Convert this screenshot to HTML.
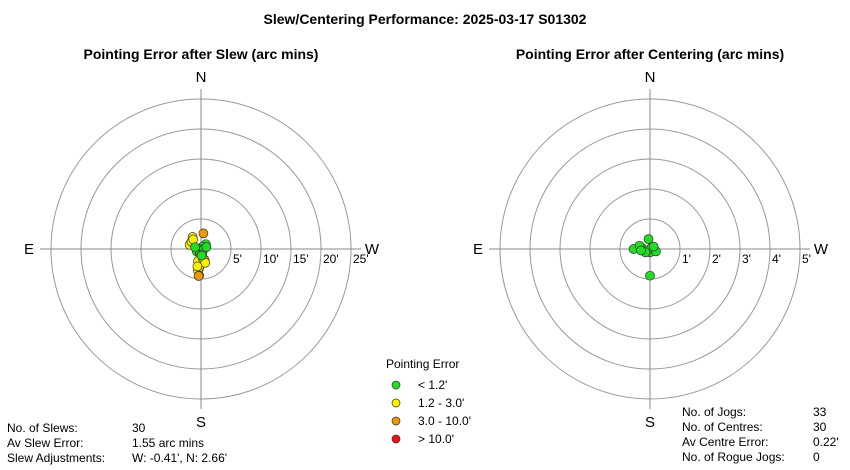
<!DOCTYPE html>
<html><head><meta charset="utf-8"><style>
body{margin:0;background:#fff;}
svg{display:block;font-family:"Liberation Sans",Arial,sans-serif;}
</style></head><body>
<svg id="c" width="850" height="470" viewBox="0 0 850 470">
<text x="425" y="24" text-anchor="middle" font-size="14" font-weight="bold">Slew/Centering Performance: 2025-03-17 S01302</text>
<text x="201" y="59" text-anchor="middle" font-size="14" font-weight="bold">Pointing Error after Slew (arc mins)</text>
<text x="650" y="59" text-anchor="middle" font-size="14" font-weight="bold">Pointing Error after Centering (arc mins)</text>
<g id="left"></g>
<g id="right"></g>
<g font-size="12">
<text x="386" y="368">Pointing Error</text>
<circle cx="396" cy="385" r="4" fill="#22dd22" stroke="#333" stroke-width="0.7"/><text x="418" y="389">&lt; 1.2'</text>
<circle cx="396" cy="403" r="4" fill="#ffee00" stroke="#333" stroke-width="0.7"/><text x="418" y="407">1.2 - 3.0'</text>
<circle cx="396" cy="421" r="4" fill="#ee9900" stroke="#333" stroke-width="0.7"/><text x="418" y="425">3.0 - 10.0'</text>
<circle cx="396" cy="439" r="4" fill="#ee1111" stroke="#333" stroke-width="0.7"/><text x="418" y="443">&gt; 10.0'</text>
</g>
<g font-size="12">
<text x="7" y="432">No. of Slews:</text><text x="132" y="432">30</text>
<text x="7" y="447">Av Slew Error:</text><text x="132" y="447">1.55 arc mins</text>
<text x="7" y="462">Slew Adjustments:</text><text x="132" y="462">W: -0.41', N: 2.66'</text>
</g>
<g font-size="12">
<text x="682" y="416">No. of Jogs:</text><text x="813" y="416">33</text>
<text x="682" y="431">No. of Centres:</text><text x="813" y="431">30</text>
<text x="682" y="446">Av Centre Error:</text><text x="813" y="446">0.22'</text>
<text x="682" y="461">No. of Rogue Jogs:</text><text x="813" y="461">0</text>
</g>
</svg>
<script>
// Slew errors (arc mins): W positive x, N positive y
const slewX = [0.4,-1.4,-1.7,-1.9,-1.6,-1.3,0.8,0.3,-0.7,0.1,-0.4,-0.2,0.5,-0.1,0.6,-0.2,-0.3,-0.5,-0.3,-0.4,-1.0,0.9,0.2,-0.5,0.3,0.7,-0.6,0.1];
const slewY = [2.6,2.0,1.0,0.7,1.2,1.6,0.8,0.4,-0.4,-0.4,0.0,-0.7,0.0,-1.3,-1.8,-2.4,-3.2,-3.6,-4.4,-4.5,0.3,0.3,-0.9,-2.0,-1.5,-2.3,-2.9,-1.1];
const slewCls = [2,1,1,1,1,1,0,0,0,0,0,0,0,1,1,1,1,1,2,2,0,0,0,1,1,1,1,0];
const slewTicks = ["5'","10'","15'","20'","25'"];
// Centering errors (arc mins)
const cenX = [-0.55,-0.05,-0.25,-0.35,0.1,0.15,0,-0.1,0.05,-0.15,0.2,0,-0.3,0.12];
const cenY = [0,0.33,0.02,0.11,0,-0.03,-0.11,-0.06,0.05,-0.11,-0.08,-0.89,-0.05,0.08];
const cenCls = [0,0,0,0,0,0,0,0,0,0,0,0,0,0];
const cenTicks = ["1'","2'","3'","4'","5'"];
const colors = ["#22dd22","#ffee00","#ee9900","#ee1111"];
const NS="http://www.w3.org/2000/svg";
function mk(p,t,a){const e=document.createElementNS(NS,t);for(const k in a)e.setAttribute(k,a[k]);p.appendChild(e);return e;}
function polar(gid,cx,cy,R,maxV,ticks,xs,ys,cls,prefix){
  const g=document.getElementById(gid);
  const sx=v=>cx+v/maxV*R, sy=v=>cy-v/maxV*R;
  ticks.forEach((t,i)=>{
    const r=R*(i+1)/ticks.length;
    const c=mk(g,'circle',{cx:cx,cy:cy,r:r,fill:'none',stroke:'#999','stroke-width':1});
    
    
    const tx=mk(g,'text',{x:cx+r+2,y:cy+14,'font-size':12});
    tx.textContent=t;
    
    
  });
  const v=mk(g,'line',{x1:cx,y1:cy-R-10,x2:cx,y2:cy+R+10,stroke:'#888'});
  
  
  const h=mk(g,'line',{x1:cx-R-11,y1:cy,x2:cx+R+10,y2:cy,stroke:'#888'});
  
  
  [['N',cx,cy-R-17,'middle'],['S',cx,cy+R+28,'middle'],['E',cx-R-22,cy+5,'middle'],['W',cx+R+21,cy+5,'middle']].forEach(d=>{
    const t=mk(g,'text',{x:d[1],y:d[2],'text-anchor':d[3],'font-size':15});
    t.textContent=d[0];
    
    
  });
  xs.forEach((x,i)=>{
    const p=mk(g,'circle',{cx:sx(x),cy:sy(ys[i]),r:4.5,fill:colors[cls[i]],stroke:'#333','stroke-width':0.7});
    
    
  });
}
polar('left',201,249,150,25,slewTicks,slewX,slewY,slewCls,'slew');
polar('right',650,249,150,5,cenTicks,cenX,cenY,cenCls,'centre');
</script>
</body></html>
